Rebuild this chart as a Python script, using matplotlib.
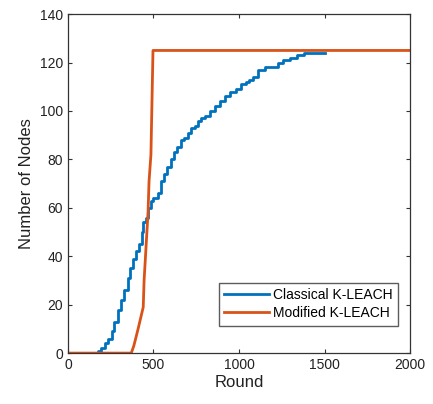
import matplotlib
matplotlib.use("Agg")
import matplotlib.pyplot as plt

plt.rcParams['font.family'] = ['Liberation Sans', 'DejaVu Sans']

classical_rounds = [0, 160, 175, 195, 215, 235, 255, 270, 290, 310, 330, 350, 365, 380, 400,
                    415, 430, 440, 456, 470, 485, 500, 526, 544, 560, 580, 600, 620, 640, 660,
                    680, 700, 720, 740, 760, 780, 800, 830, 860, 890, 920, 950, 980, 1010, 1040,
                    1060, 1080, 1110, 1150, 1190, 1230, 1260, 1300, 1340, 1370, 1380, 1420, 1500]
classical_nodes = [0, 0, 1, 2, 4, 6, 9, 13, 18, 22, 26, 31, 35, 39, 42,
                   45, 50, 54, 56, 60, 63, 64, 66, 71, 74, 77, 80, 83, 85, 88,
                   89, 91, 93, 94, 96, 97, 98, 100, 102, 104, 106, 108, 109, 111, 112,
                   113, 114, 117, 118, 118, 120, 121, 122, 123, 123, 124, 124, 124]

modified_rounds = [0, 370, 385, 410, 440, 445, 468, 474, 485, 497, 2000]
modified_nodes = [0, 0, 3, 10, 19, 30, 58, 71, 82, 125, 125]

fig = plt.figure(figsize=(4.33, 4.04), dpi=100)
ax = fig.add_axes([0.157, 0.126, 0.790, 0.839])

ax.plot(classical_rounds, classical_nodes, color='#0072BD', lw=2, label='Classical K-LEACH',
        drawstyle='steps-post')
ax.plot(modified_rounds, modified_nodes, color='#D95319', lw=2, label='Modified K-LEACH')

ax.set_xlim(0, 2000)
ax.set_ylim(0, 140)
ax.set_xticks([0, 500, 1000, 1500, 2000])
ax.set_yticks(range(0, 141, 20))
ax.tick_params(direction='in', top=True, right=True, labelsize=10, length=3,
               color='#333333', labelcolor='#222222')
for s in ax.spines.values():
    s.set_color('#333333')
    s.set_linewidth(0.9)
ax.set_xlabel('Round', fontsize=12, color='#222222', labelpad=2)
ax.set_ylabel('Number of Nodes', fontsize=12, color='#222222')
leg = ax.legend(loc='lower right', fontsize=10, fancybox=False, edgecolor='#333333',
                handlelength=3.2, borderpad=0.4, labelspacing=0.3, handletextpad=0.3,
                bbox_to_anchor=(0.985, 0.06))
leg.get_frame().set_linewidth(1.0)

fig.savefig('out.png', dpi=100)
